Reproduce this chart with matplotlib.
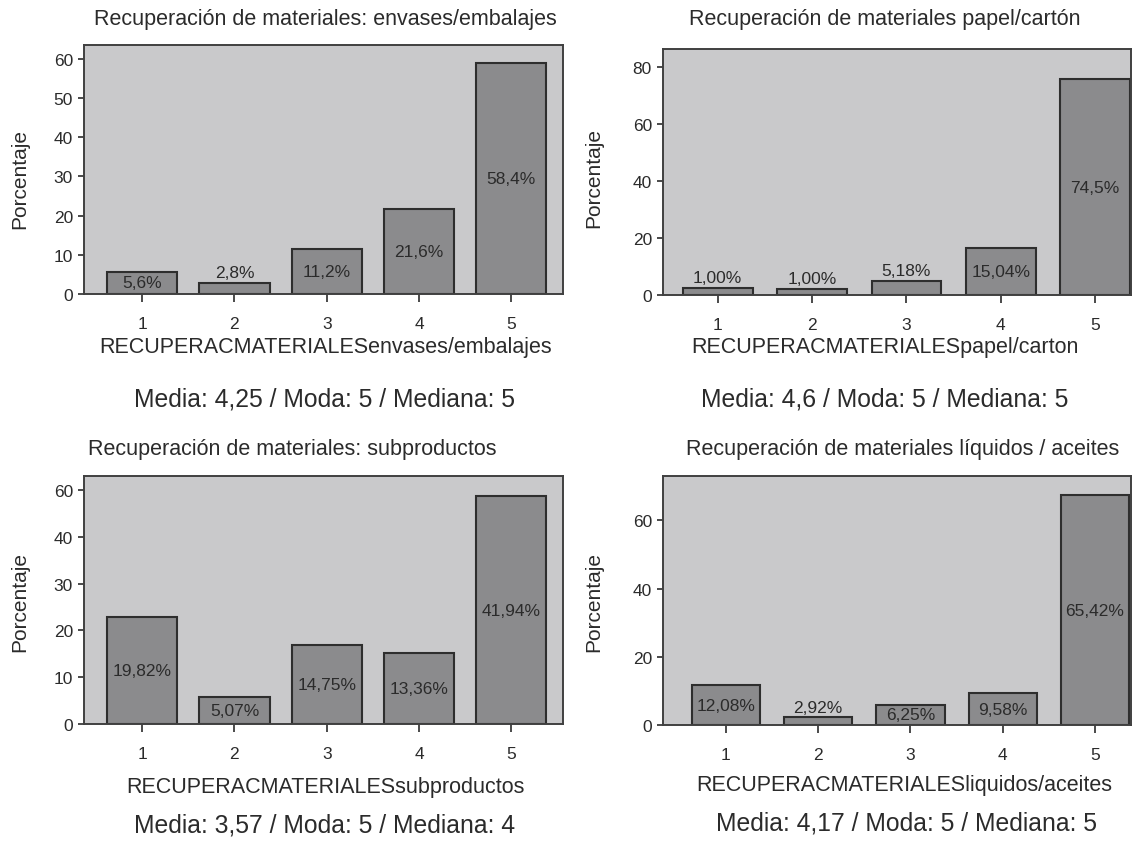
import matplotlib
matplotlib.use('Agg')
import matplotlib.pyplot as plt

plt.rcParams['font.family'] = ['Liberation Sans', 'DejaVu Sans']

# data
categories = [1, 2, 3, 4, 5]

# bar heights as drawn on each axis
envases = [5.7, 2.8, 11.4, 21.7, 58.8]
papel = [2.6, 2.1, 5.05, 16.6, 75.9]
subproductos = [22.8, 5.7, 16.8, 15.2, 48.7]
liquidos = [11.7, 2.2, 5.9, 9.3, 67.3]

# percentages printed on the bars
envases_lbl = ['5,6%', '2,8%', '11,2%', '21,6%', '58,4%']
papel_lbl = ['1,00%', '1,00%', '5,18%', '15,04%', '74,5%']
subproductos_lbl = ['19,82%', '5,07%', '14,75%', '13,36%', '41,94%']
liquidos_lbl = ['12,08%', '2,92%', '6,25%', '9,58%', '65,42%']

titles = ['Recuperación de materiales: envases/embalajes',
          'Recuperación de materiales papel/cartón',
          'Recuperación de materiales: subproductos',
          'Recuperación de materiales líquidos / aceites']
xlabels = ['RECUPERACMATERIALESenvases/embalajes',
           'RECUPERACMATERIALESpapel/carton',
           'RECUPERACMATERIALESsubproductos',
           'RECUPERACMATERIALESliquidos/aceites']
resumen = ['Media: 4,25 / Moda: 5 / Mediana: 5',
           'Media: 4,6 / Moda: 5 / Mediana: 5',
           'Media: 3,57 / Moda: 5 / Mediana: 4',
           'Media: 4,17 / Moda: 5 / Mediana: 5']

# y ticks (the subproductos axis is labelled 60 where 50 would be)
yticks_1 = [0, 10, 20, 30, 40, 50, 60]
yticklabels_1 = ['0', '10', '20', '30', '40', '50', '60']
yticks_2 = [0, 20, 40, 60, 80]
yticklabels_2 = ['0', '20', '40', '60', '80']
yticks_3 = [0, 10, 20, 30, 40, 50]
yticklabels_3 = ['0', '10', '20', '30', '40', '60']
yticks_4 = [0, 20, 40, 60]
yticklabels_4 = ['0', '20', '40', '60']

W, H = 1135, 845
fig = plt.figure(figsize=(W / 100, H / 100), dpi=100)

BG = '#c9c9cb'
BAR = '#8b8b8d'
EDGE = '#2e2e2e'
TXT = '#2b2b2b'


def px_axes(left, top, right, bottom):
    return fig.add_axes([left / W, 1 - bottom / H, (right - left) / W, (bottom - top) / H])


def draw_panel(ax, values, labels, width, xlim, ylim, yticks, yticklabels):
    ax.set_facecolor(BG)
    ax.bar(categories, values, width=width, color=BAR, edgecolor=EDGE, linewidth=1.5, zorder=2)
    ax.set_xlim(*xlim)
    ax.set_ylim(*ylim)
    ax.set_xticks(categories)
    ax.set_xticklabels([str(c) for c in categories])
    ax.set_yticks(yticks)
    ax.set_yticklabels(yticklabels)
    ax.tick_params(axis='x', length=5.5, width=1.2, pad=10, labelsize=12.5,
                   colors=TXT, direction='out')
    ax.tick_params(axis='y', length=4, width=1.2, pad=4, labelsize=12.5,
                   colors=TXT, direction='out')
    for s in ax.spines.values():
        s.set_color('#404040')
        s.set_linewidth(1.4)
    for c, v, lbl in zip(categories, values, labels):
        if v / ylim[1] > 0.07:
            ax.text(c, v / 2, lbl, ha='center', va='center', fontsize=12.5, color=TXT, zorder=3)
        else:
            ax.annotate(lbl, (c, v), xytext=(0, 2), textcoords='offset points',
                        ha='center', va='bottom', fontsize=12.5, color=TXT, zorder=3)


ax1 = px_axes(84, 46, 563, 295)
draw_panel(ax1, envases, envases_lbl, 0.76, (0.37, 5.56), (0, 63.5), yticks_1, yticklabels_1)
ax2 = px_axes(663, 50, 1131, 296)
draw_panel(ax2, papel, papel_lbl, 0.74, (0.42, 5.38), (0, 86.5), yticks_2, yticklabels_2)
ax3 = px_axes(84, 477, 563, 725)
draw_panel(ax3, subproductos, subproductos_lbl, 0.76, (0.37, 5.56), (0, 53), yticks_3, yticklabels_3)
ax4 = px_axes(663, 477, 1131, 726)
draw_panel(ax4, liquidos, liquidos_lbl, 0.74, (0.32, 5.39), (0, 73), yticks_4, yticklabels_4)

# titles, axis labels and summary lines placed by pixel position
title_xy = [(325, 20), (885, 19), (292, 450), (903, 450)]
xlabel_xy = [(326, 348), (885, 348), (325, 788), (904, 786)]
resumen_xy = [(325, 400), (885, 400), (325, 826), (906, 824)]
ylabel_xy = [(20, 179), (594, 178), (20, 602), (594, 602)]

for i in range(4):
    x, y = title_xy[i]
    fig.text(x / W, 1 - y / H, titles[i], ha='center', va='center', fontsize=15.5, color=TXT)
    x, y = xlabel_xy[i]
    fig.text(x / W, 1 - y / H, xlabels[i], ha='center', va='center', fontsize=15.5, color=TXT)
    x, y = resumen_xy[i]
    fig.text(x / W, 1 - y / H, resumen[i], ha='center', va='center', fontsize=17.8, color=TXT)
    x, y = ylabel_xy[i]
    fig.text(x / W, 1 - y / H, 'Porcentaje', ha='center', va='center', rotation=90,
             fontsize=15, color=TXT)

fig.savefig('out.png', dpi=100, facecolor='white')
plt.close()
